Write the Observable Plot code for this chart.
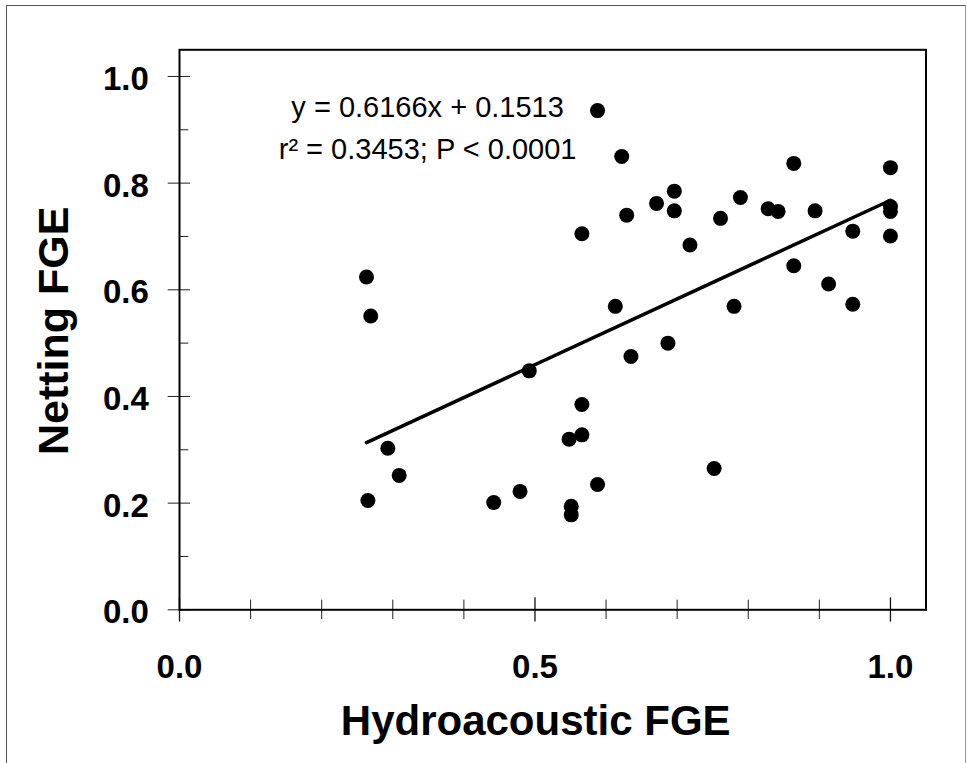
<!DOCTYPE html>
<html>
<head>
<meta charset="utf-8">
<script src="https://cdn.jsdelivr.net/npm/d3@7"></script>
<script src="https://cdn.jsdelivr.net/npm/@observablehq/plot@0.6"></script>
<style>
  html, body { margin: 0; padding: 0; background: #fff; overflow: hidden; }
  #wrap { position: relative; width: 967px; height: 763px; overflow: hidden; }
  #border { position: absolute; left: 6px; top: 5px; width: 960px; height: 780px; border: 1.5px solid #555; border-right-color: #999; border-bottom: none; box-sizing: border-box; pointer-events: none; }
  svg { display: block; }
</style>
</head>
<body>
<div id="wrap"><div id="border"></div></div>
<script>
// Data
const hydroFGE = [0.263, 0.269, 0.265, 0.293, 0.309, 0.442, 0.479, 0.492, 0.548, 0.551,
                  0.551, 0.566, 0.566, 0.566, 0.588, 0.588, 0.613, 0.622, 0.629, 0.635,
                  0.671, 0.687, 0.696, 0.696, 0.718, 0.752, 0.761, 0.780, 0.789, 0.828,
                  0.842, 0.864, 0.864, 0.894, 0.913, 0.947, 0.947, 1.000, 1.000, 1.000, 1.000];
const nettingFGE = [0.624, 0.551, 0.205, 0.303, 0.252, 0.201, 0.222, 0.448, 0.320, 0.194,
                    0.178, 0.705, 0.385, 0.328, 0.936, 0.235, 0.569, 0.850, 0.740, 0.475,
                    0.762, 0.500, 0.785, 0.748, 0.684, 0.265, 0.734, 0.569, 0.773, 0.752,
                    0.747, 0.837, 0.645, 0.748, 0.611, 0.710, 0.573, 0.829, 0.756, 0.747, 0.701];
const slope = 0.6166;
const intercept = 0.1513;
const eqLines = ["y = 0.6166x + 0.1513", "r\u00B2 = 0.3453; P < 0.0001"];
const xMajor = [0.0, 0.5, 1.0];
const xMinor = [0.1, 0.2, 0.3, 0.4, 0.6, 0.7, 0.8, 0.9];
const yMajor = [0.0, 0.2, 0.4, 0.6, 0.8, 1.0];
const yMinor = [0.1, 0.3, 0.5, 0.7, 0.9];
const xTitle = "Hydroacoustic FGE";
const yTitle = "Netting FGE";

const W = 967, H = 763;
const mL = 179, mR = 41.5, mT = 49.3, mB = 153.7;
const dom = [0, 1.05];
const xPerPx = (dom[1] - dom[0]) / (W - mL - mR);
const yPerPx = (dom[1] - dom[0]) / (H - mT - mB);

const idx = d3.range(hydroFGE.length);
const fitX = [d3.min(hydroFGE), d3.max(hydroFGE)];
const font = "'Liberation Sans', Arial, sans-serif";

const chart = Plot.plot({
  width: W,
  height: H,
  marginLeft: mL,
  marginRight: mR,
  marginTop: mT,
  marginBottom: mB,
  style: {fontFamily: font, background: "white", overflow: "visible", color: "black"},
  x: {domain: dom},
  y: {domain: dom},
  marks: [
    // tick marks
    Plot.ruleX(xMinor, {x: d => d, y1: -9.7 * yPerPx, y2: 9.7 * yPerPx, stroke: "#222", strokeWidth: 1}),
    Plot.ruleX(xMajor, {x: d => d, y1: -12.3 * yPerPx, y2: 12 * yPerPx, stroke: "#111", strokeWidth: 1.3}),
    Plot.ruleY(yMajor, {y: d => d, x1: -11.3 * xPerPx, x2: 11 * xPerPx, stroke: "#222", strokeWidth: 1}),
    Plot.ruleY(yMinor, {y: d => d, x1: 0, x2: 9.3 * xPerPx, stroke: "#222", strokeWidth: 1}),
    Plot.frame({stroke: "black", strokeWidth: 2}),
    // tick labels
    Plot.axisX(xMajor, {tickSize: 0, tickPadding: 45, tickFormat: d3.format(".1f"), fontSize: 33, fontWeight: "bold", label: null, fill: "black"}),
    Plot.axisY(yMajor, {tickSize: 0, tickPadding: 30.7, tickFormat: d3.format(".1f"), fontSize: 33, fontWeight: "bold", label: null, dy: 3, fill: "black"}),
    // axis titles
    Plot.text([xTitle], {x: () => 0.501, frameAnchor: "bottom", textAnchor: "middle", lineAnchor: "middle", dy: 111.3, fontSize: 42, fontWeight: "bold", fill: "black"}),
    Plot.text([yTitle], {frameAnchor: "left", textAnchor: "middle", lineAnchor: "middle", rotate: -90, dx: -125, dy: 1, fontSize: 43, fontWeight: "bold", fill: "black"}),
    // regression line
    Plot.line(fitX, {x: d => d, y: d => slope * d + intercept, stroke: "black", strokeWidth: 3.5}),
    // points
    Plot.dot(idx, {x: i => hydroFGE[i], y: i => nettingFGE[i], r: 7.5, fill: "black"}),
    // equation annotation
    Plot.text([eqLines.join("\n")], {x: () => 0.349, y: () => 0.981, textAnchor: "middle", lineAnchor: "top", lineHeight: 1.46, fontSize: 29, fill: "black"})
  ]
});

document.getElementById("wrap").insertBefore(chart, document.getElementById("border"));
</script>
</body>
</html>
